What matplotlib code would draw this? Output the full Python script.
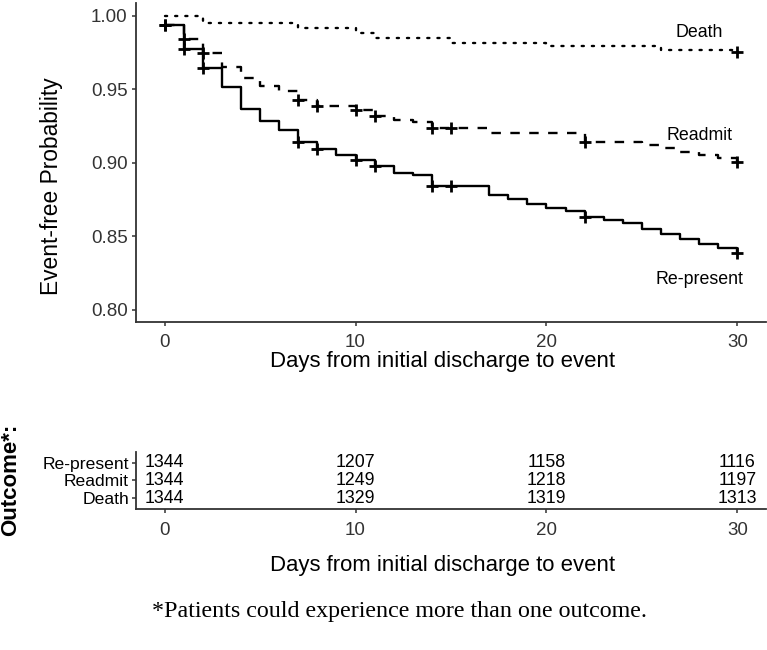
import numpy as np
import matplotlib
matplotlib.use("Agg")
import matplotlib.pyplot as plt

plt.rcParams['font.family'] = ['Liberation Sans', 'DejaVu Sans']

# ---- data ----
rep_times = [0, 1, 2, 3, 4, 5, 6, 7, 8, 9, 10, 11, 12, 13, 14, 17, 18, 19, 20, 21, 22, 23, 24, 25, 26, 27, 28, 29, 30]
rep_surv = [0.994, 0.9773, 0.9643, 0.9515, 0.937, 0.9286, 0.9224, 0.9145, 0.9093, 0.9054, 0.902, 0.898, 0.893, 0.8918,
            0.8844, 0.8782, 0.8753, 0.8721, 0.8692, 0.8676, 0.8635, 0.8612, 0.8594, 0.8549, 0.8515, 0.8483, 0.8447, 0.842, 0.8386]
rep_cens = [0, 1, 2, 7, 8, 10, 11, 14, 15, 22, 30]

rea_times = [0, 1, 2, 3, 4, 5, 6, 7, 8, 9, 10, 11, 12, 13, 14, 17, 22, 25, 26, 27, 28, 29, 30]
rea_surv = [0.994, 0.984, 0.975, 0.9655, 0.9576, 0.9524, 0.949, 0.943, 0.939, 0.9385, 0.936, 0.932, 0.929, 0.928,
            0.9235, 0.9206, 0.9145, 0.912, 0.910, 0.9077, 0.9054, 0.9032, 0.9009]
rea_cens = [0, 1, 2, 7, 8, 10, 11, 14, 15, 22, 30]

dth_times = [0, 2, 7, 10, 11, 15, 20, 26, 30]
dth_surv = [1.000, 0.9955, 0.9916, 0.9882, 0.9852, 0.9818, 0.9795, 0.9768, 0.9752]
dth_cens = [30]

series_names = ['Re-present', 'Readmit', 'Death']
risk_times = [0, 10, 20, 30]
risk_rep = [1344, 1207, 1158, 1116]
risk_rea = [1344, 1249, 1218, 1197]
risk_dth = [1344, 1329, 1319, 1313]

y_ticks = [0.80, 0.85, 0.90, 0.95, 1.00]
x_ticks = [0, 10, 20, 30]

W, H = 767, 650
fig = plt.figure(figsize=(W / 100, H / 100), dpi=100)

def fx(px):
    return px / W

def fy(py):
    return 1 - py / H

spine_col = '#333333'
tick_col = '#333333'

# ---- main KM panel ----
ax = fig.add_axes([fx(136), fy(322), fx(766) - fx(136), fy(3) - fy(322)])
ax.set_xlim(-1.5, 31.5)
ax.set_ylim(0.7918, 1.0088)

def surv_at(times, surv, t):
    i = np.searchsorted(times, t, side='right') - 1
    return surv[i]

styles = [
    (rep_times, rep_surv, rep_cens, '-', 'butt'),
    (rea_times, rea_surv, rea_cens, (0, (4, 4)), 'butt'),
    (dth_times, dth_surv, dth_cens, (0, (0.9, 3.4)), 'round'),
]
for times, surv, cens, ls, cap in styles:
    ax.step(times, surv, where='post', color='black', lw=1.7, linestyle=ls,
            solid_capstyle='butt', dash_capstyle=cap)
    cy = [surv_at(times, surv, t) for t in cens]
    ax.plot(cens, cy, linestyle='none', marker='+', markersize=9, mew=2, color='black')

ax.text(28.0, 0.9889, 'Death', fontsize=12.8, ha='center', va='center')
ax.text(28.0, 0.919, 'Readmit', fontsize=12.8, ha='center', va='center')
ax.text(28.0, 0.8204, 'Re-present', fontsize=12.8, ha='center', va='center')

ax.set_xticks(x_ticks)
ax.set_yticks(y_ticks)
ax.set_yticklabels([f'{v:.2f}' for v in y_ticks])
for s in ['top', 'right']:
    ax.spines[s].set_visible(False)
for s in ['left', 'bottom']:
    ax.spines[s].set_color(spine_col)
    ax.spines[s].set_linewidth(1.3)
ax.tick_params(axis='both', length=3, width=1.1, color=spine_col, labelsize=13.5,
               labelcolor=tick_col)
ax.tick_params(axis='x', pad=5.5)
ax.tick_params(axis='y', pad=3)

fig.text(fx(51.7), fy(186), 'Event-free Probability', rotation=90, fontsize=16.4,
         ha='center', va='center')
fig.text(fx(443), fy(362), 'Days from initial discharge to event', fontsize=15.9,
         ha='center', va='center')

# ---- risk table ----
tb = fig.add_axes([fx(136), fy(508.6), fx(766) - fx(136), fy(452.4) - fy(508.6)])
tb.set_xlim(-1.5, 31.5)
tb.set_ylim(0.4, 3.6)
rows = [(3, risk_rep), (2, risk_rea), (1, risk_dth)]
for yv, vals in rows:
    for t, n in zip(risk_times, vals):
        tb.text(t, yv, str(n), ha='center', va='center', fontsize=12.8, color='black')
tb.set_xticks(x_ticks)
tb.set_yticks([3, 2, 1])
tb.set_yticklabels(series_names)
for s in ['top', 'right']:
    tb.spines[s].set_visible(False)
for s in ['left', 'bottom']:
    tb.spines[s].set_color(spine_col)
    tb.spines[s].set_linewidth(1.3)
tb.tick_params(axis='x', length=3, width=1.1, color=spine_col, labelsize=13.5,
               labelcolor=tick_col, pad=6.5)
tb.tick_params(axis='y', length=3, width=1.1, color=spine_col, labelsize=12.6,
               labelcolor='black', pad=2)

fig.text(fx(11), fy(480), 'Outcome*:', rotation=90, fontsize=16, fontweight='bold',
         ha='center', va='center')
fig.text(fx(443), fy(565), 'Days from initial discharge to event', fontsize=15.9,
         ha='center', va='center')

fig.text(fx(399), fy(611), '*Patients could experience more than one outcome.',
         fontsize=17.3, family=['Liberation Serif', 'DejaVu Serif'], ha='center', va='center')

fig.savefig('out.png', dpi=100)
